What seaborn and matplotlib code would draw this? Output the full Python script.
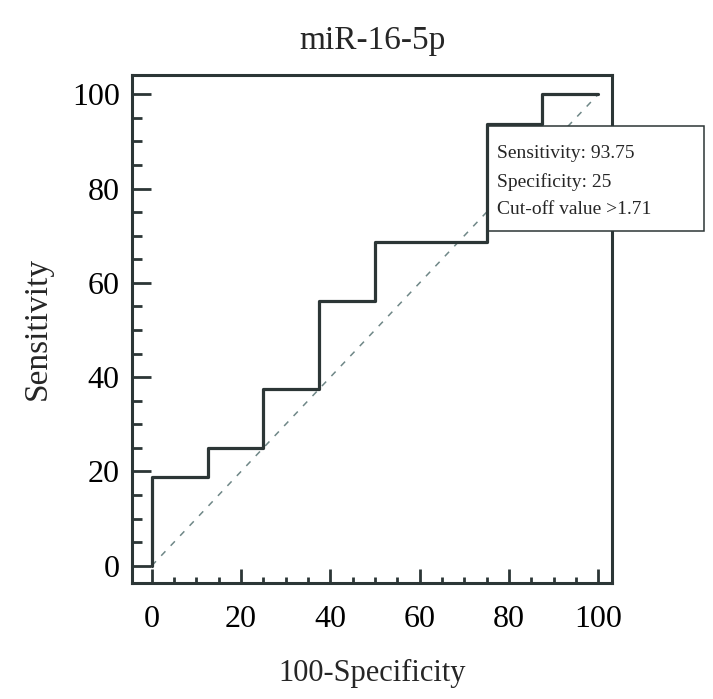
import matplotlib

matplotlib.use("Agg")
import matplotlib.pyplot as plt
import numpy as np
import pandas as pd
import seaborn as sns
from matplotlib.patches import Rectangle
from matplotlib.ticker import MultipleLocator

# ROC corner points (100-Specificity, Sensitivity)
fpr = [0, 0, 12.5, 25, 37.5, 50, 75, 87.5, 100]
tpr = [0, 18.75, 25, 37.5, 56.25, 68.75, 93.75, 100, 100]
diag = [0, 100]

# best cut-off
sens_cut = 93.75
spec_cut = 25
cutoff = 1.71

ticks = [0, 20, 40, 60, 80, 100]

LINE = "#2c3636"
DASH = "#6f8787"

sns.set_style("ticks")
plt.rcParams["font.family"] = ["Liberation Serif", "DejaVu Serif"]

fig = plt.figure(figsize=(7.13, 6.99), dpi=100)
ax = fig.add_axes([0.1856, 0.1664, 0.6728, 0.7263])

roc = pd.DataFrame({"fpr": fpr, "tpr": tpr})
sns.lineplot(data=roc, x="fpr", y="tpr", sort=False, estimator=None,
             drawstyle="steps-post", color=LINE, lw=2.3, ax=ax, zorder=3)
sns.lineplot(x=diag, y=diag, color=DASH, lw=1.1, ax=ax,
             linestyle=(0, (4, 5)), zorder=2)

ax.set_xlim(-4.35, 103.1)
ax.set_ylim(-3.6, 104.1)
ax.set_xticks(ticks)
ax.set_yticks(ticks)
ax.xaxis.set_minor_locator(MultipleLocator(5))
ax.yaxis.set_minor_locator(MultipleLocator(5))

for s in ax.spines.values():
    s.set_linewidth(2.2)
    s.set_color(LINE)
ax.tick_params(axis="both", which="both", direction="in", color=LINE,
               width=2.0, labelsize=23, labelcolor="black")
ax.tick_params(axis="x", which="major", length=10, pad=16)
ax.tick_params(axis="x", which="minor", length=4.3)
ax.tick_params(axis="y", which="major", length=13.8, pad=9)
ax.tick_params(axis="y", which="minor", length=7.2)

ax.set_xlabel("100-Specificity", fontsize=22, labelpad=18)
ax.set_ylabel("Sensitivity", fontsize=24, labelpad=14)
ax.set_title("miR-16-5p", fontsize=24, pad=19)

# cut-off info box, anchored just under the cut-off point
x0, y0 = 100 - spec_cut, sens_cut - 0.4
box = Rectangle((x0, y0 - 22.4), 48.6, 22.4, facecolor="white",
                edgecolor=LINE, lw=1.1, clip_on=False, zorder=2.8)
ax.add_patch(box)
ax.text(x0 + 2.4, y0 - 11.8,
        f"Sensitivity: {sens_cut:g}\nSpecificity: {spec_cut:g}\n"
        f"Cut-off value >{cutoff:g}",
        fontsize=14, ha="left", va="center", linespacing=1.8,
        zorder=6, clip_on=False)

fig.savefig("out.png", dpi=100)
